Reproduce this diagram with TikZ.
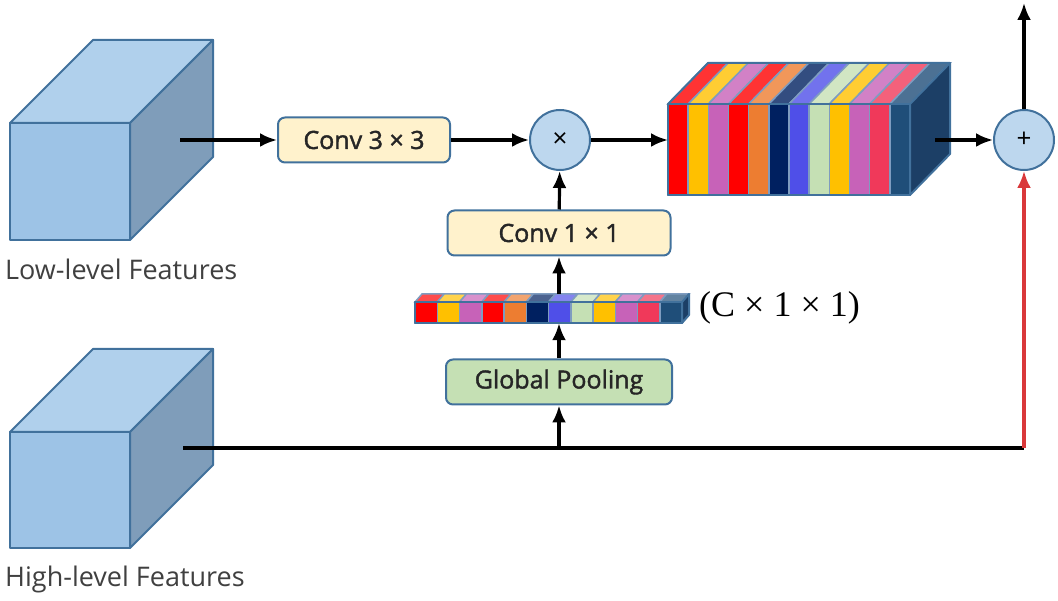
\documentclass[tikz,border=0pt]{standalone}
\usepackage{fontspec}
\setmainfont{Open Sans}
\newfontfamily\boxfont[FakeBold=1.6]{Open Sans}
\newfontfamily\dimfont{Liberation Serif}
\usetikzlibrary{arrows.meta,positioning}

\definecolor{cubefront}{HTML}{9DC3E6}
\definecolor{cubetop}{HTML}{B0D0EC}
\definecolor{cubeside}{HTML}{7F9DBA}
\definecolor{cubeedge}{HTML}{41719C}
\definecolor{convfill}{HTML}{FFF2CC}
\definecolor{poolfill}{HTML}{C5E0B4}
\definecolor{opfill}{HTML}{BDD7EE}
\definecolor{sumred}{HTML}{D9383A}
\definecolor{stackside}{HTML}{1C3F66}
\definecolor{gapline}{HTML}{7E9CC0}
% channel colours
\definecolor{chred}{HTML}{FF0000}
\definecolor{chyellow}{HTML}{FFC000}
\definecolor{chorchid}{HTML}{C762B8}
\definecolor{chorange}{HTML}{ED7D31}
\definecolor{chnavy}{HTML}{002060}
\definecolor{chblue}{HTML}{4F4FE8}
\definecolor{chgreen}{HTML}{C5E0B4}
\definecolor{chcrimson}{HTML}{F0395A}
\definecolor{chsteel}{HTML}{1F4E79}

\begin{document}
\begin{tikzpicture}[x=1pt,y=1pt,
    edge/.style={draw=cubeedge, line width=2pt, line join=round},
    cell/.style={draw=gapline, line width=1.5pt},
    block/.style={draw=cubeedge, line width=2pt, rounded corners=7pt, minimum width=#1, minimum height=45pt, inner sep=0pt, font=\boxfont\fontsize{25}{28}\selectfont, text=black!85},
    op/.style={circle, draw=cubeedge, fill=opfill, line width=2pt, minimum size=60pt, inner sep=0pt, font=\fontsize{26}{28}\selectfont},
    link/.style={line width=3.2pt, -{Latex[length=17pt,width=14pt]}},
    label/.style={anchor=base west, inner sep=0pt, font=\fontsize{27}{30}\selectfont, text=black!75}]

    \useasboundingbox (0,0) rectangle (1058,600);

    % Low-level features
    \draw[edge, fill=cubefront] (10,360) rectangle (130,477);
    \draw[edge, fill=cubetop] (10,477) -- (93,560) -- (213,560) -- (130,477) -- cycle;
    \draw[edge, fill=cubeside] (130,360) -- (213,443) -- (213,560) -- (130,477) -- cycle;
    \node[label] (lowlabel) at (5,320) {Low-level Features};

    % High-level features
    \draw[edge, fill=cubefront] (10,52) rectangle (130,168);
    \draw[edge, fill=cubetop] (10,168) -- (93,251) -- (213,251) -- (130,168) -- cycle;
    \draw[edge, fill=cubeside] (130,52) -- (213,135) -- (213,251) -- (130,168) -- cycle;
    \node[label] (highlabel) at (5,13) {High-level Features};

    % Blocks
    \node[block=172pt, fill=convfill] (conv3) at (364,460) {Conv 3 × 3};
    \node[op] (mul) at (560,460) {×};
    \node[block=223pt, fill=convfill] (conv1) at (559,367) {Conv 1 × 1};
    \node[block=226pt, fill=poolfill] (pool) at (559,218) {Global Pooling};
    \node[op] (add) at (1024,460) {+};

    % Weighted feature maps
    \foreach \c [count=\i from 0] in {chred,chyellow,chorchid,chred,chorange,chnavy,chblue,chgreen,chyellow,chorchid,chcrimson,chsteel} {
        \draw[cell, fill=\c] ({668+\i*20.17},405) rectangle ++(20.17,91);
        \draw[cell, fill=\c!80!white] ({668+\i*20.17},496) -- ++(40,41) -- ++(20.17,0) -- ++(-40,-41) -- cycle;
    }
    \draw[edge, fill=stackside] (910,405) -- (950,446) -- (950,537) -- (910,496) -- cycle;
    \draw[edge] (668,405) rectangle (910,496);
    \draw[edge] (668,496) -- (708,537) -- (950,537);

    % Channel vector
    \foreach \c [count=\i from 0] in {chred,chyellow,chorchid,chred,chorange,chnavy,chblue,chgreen,chyellow,chorchid,chcrimson,chsteel} {
        \draw[cell, fill=\c] ({415+\i*22.25},277) rectangle ++(22.25,21);
        \draw[cell, fill=\c!70!white] ({415+\i*22.25},298) -- ++(7,8) -- ++(22.25,0) -- ++(-7,-8) -- cycle;
    }
    \draw[edge, fill=stackside] (682,277) -- (689,285) -- (689,306) -- (682,298) -- cycle;
    \draw[edge] (415,277) rectangle (682,298);
    \node[minimum height=29pt, inner sep=0pt] (vec) at (559,291.5) {};
    \node[anchor=west, inner sep=0pt, font=\dimfont\fontsize{36}{40}\selectfont] (dims) at (699,292) {(C × 1 × 1)};

    % Connections
    \coordinate (lowout) at (180,460);
    \coordinate (highout) at (183,152);
    \coordinate (split) at (559,152);
    \coordinate (turn) at (1024,152);
    \coordinate (stackin) at (668,460);
    \coordinate (stackout) at (935,460);
    \coordinate (out) at (1024,597);

    \draw[link] (lowout) -- (conv3);
    \draw[link] (conv3) -- (mul);
    \draw[link] (mul) -- (stackin);
    \draw[link] (stackout) -- (add);
    \draw[link] (add) -- (out);
    \draw[link] (conv1) -- (mul);
    \draw[link] (vec) -- (conv1);
    \draw[link] (pool) -- (vec);
    \draw[line width=3.2pt] (highout) -- (turn);
    \draw[link] (split) -- (pool);
    \draw[link, draw=sumred] (turn) -- (add);
\end{tikzpicture}
\end{document}
